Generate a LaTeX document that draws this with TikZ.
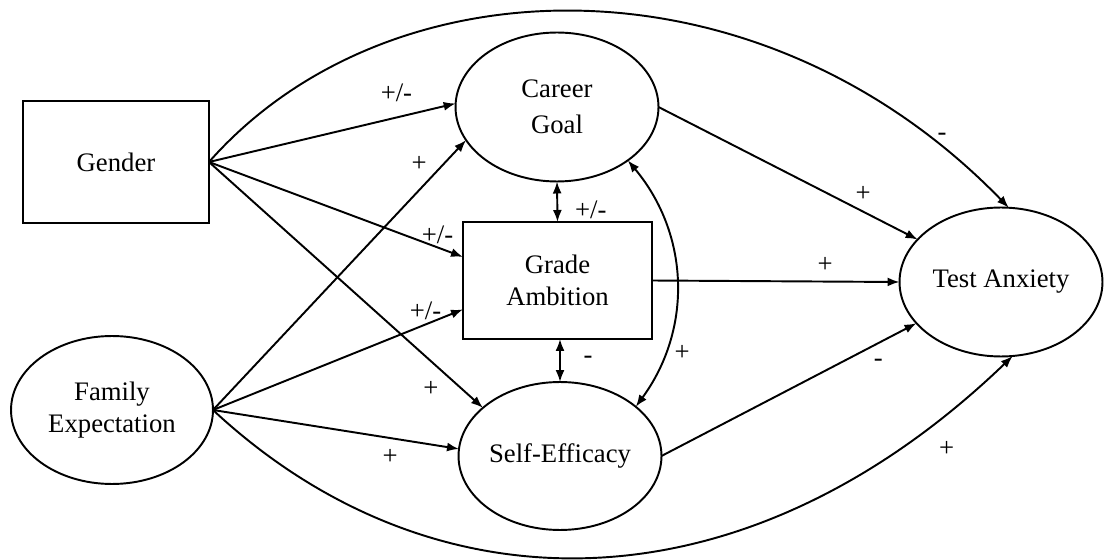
\documentclass[tikz,border=0pt]{standalone}
\usepackage{fontspec}
\setmainfont{Liberation Serif}
\usetikzlibrary{arrows.meta,shapes.geometric}

\begin{document}
\begin{tikzpicture}[
  x=0.02cm, y=-0.02cm,
  font=\fontsize{15.2}{18.5}\selectfont,
  latent/.style={draw, line width=1.1pt, ellipse, align=center, inner sep=0pt, outer sep=0pt, minimum width=4.04cm, minimum height=2.96cm},
  observed/.style={draw, line width=1.1pt, rectangle, align=center, inner sep=0pt, outer sep=0pt},
  effect/.style={draw, line width=1.1pt, -{Latex[length=2.4mm,width=1.8mm]}},
  cov/.style={draw, line width=1.1pt, {Latex[length=2.4mm,width=1.8mm]}-{Latex[length=2.4mm,width=1.8mm]}},
  sign/.style={inner sep=0pt}
]
\useasboundingbox (0,0) rectangle (1106,560);

\node[observed, minimum width=3.72cm, minimum height=2.44cm] (Gender) at (116,162) {Gender};
\node[latent] (Family) at (112,410) {Family\\Expectation};
\node[latent, minimum width=4.06cm, minimum height=2.98cm] (Career) at (557,107) {Career\\[2pt]Goal};
\node[observed, minimum width=3.78cm, minimum height=2.34cm] (Grade) at (557.5,280.5) {Grade\\Ambition};
\node[latent, minimum width=4.06cm] (Self) at (560,456) {Self-Efficacy};
\node[latent, minimum width=4.06cm, minimum height=2.98cm] (TA) at (1001,282) {Test Anxiety};

% gender and family paths
\draw[effect] (Gender.east) -- node[sign, pos=0.76, yshift=14pt] (sGC) {+/-} (Career.178);
\draw[effect] (Gender.east) -- node[sign, pos=0.9, yshift=7pt] (sGG) {+/-} (Grade.166);
\draw[effect] (Gender.east) -- node[sign, pos=0.81, yshift=-16pt] (sGS) {+} (Self.148);
\draw[effect] (Family.east) -- node[sign, pos=0.815, yshift=15pt] (sFC) {+} (Career.200);
\draw[effect] (Family.east) -- node[sign, pos=0.85, yshift=8pt] (sFG) {+/-} (Grade.197);
\draw[effect] (Family.east) -- node[sign, pos=0.72, yshift=-11pt] (sFS) {+} (Self.176);

% paths to test anxiety
\draw[effect] (Career.east) -- node[sign, pos=0.79, yshift=10pt] (sCT) {+} (TA.153);
\draw[effect] (Grade.east) -- node[sign, pos=0.7, yshift=9.5pt] (sGT) {+} (TA.west);
\draw[effect] (Self.east) -- node[sign, pos=0.85, yshift=-11pt] (sST) {-} (TA.206);
\draw[effect] (Gender.east) .. controls (389,-42) and (759,-50) .. (TA.84)
  node[sign, pos=0.91, xshift=2pt, yshift=4.5pt] (sGTA) {-};
\draw[effect] (Family.east) .. controls (433,615) and (743,615) .. (TA.279)
  node[sign, pos=0.9, xshift=9pt, yshift=-13pt] (sFTA) {+};

% covariances
\draw[cov] (Career.south) -- node[sign, pos=0.7, xshift=19pt] (sCG) {+/-} (Grade.north);
\draw[cov] (Self.north |- Grade.south) -- node[sign, pos=0.49, xshift=16pt] (sGSE) {-} (Self.north);
\draw[cov] (Career.323) to[bend left=38] node[sign, pos=0.78, xshift=10pt] (sCS) {+} (Self.33);
\end{tikzpicture}
\end{document}
